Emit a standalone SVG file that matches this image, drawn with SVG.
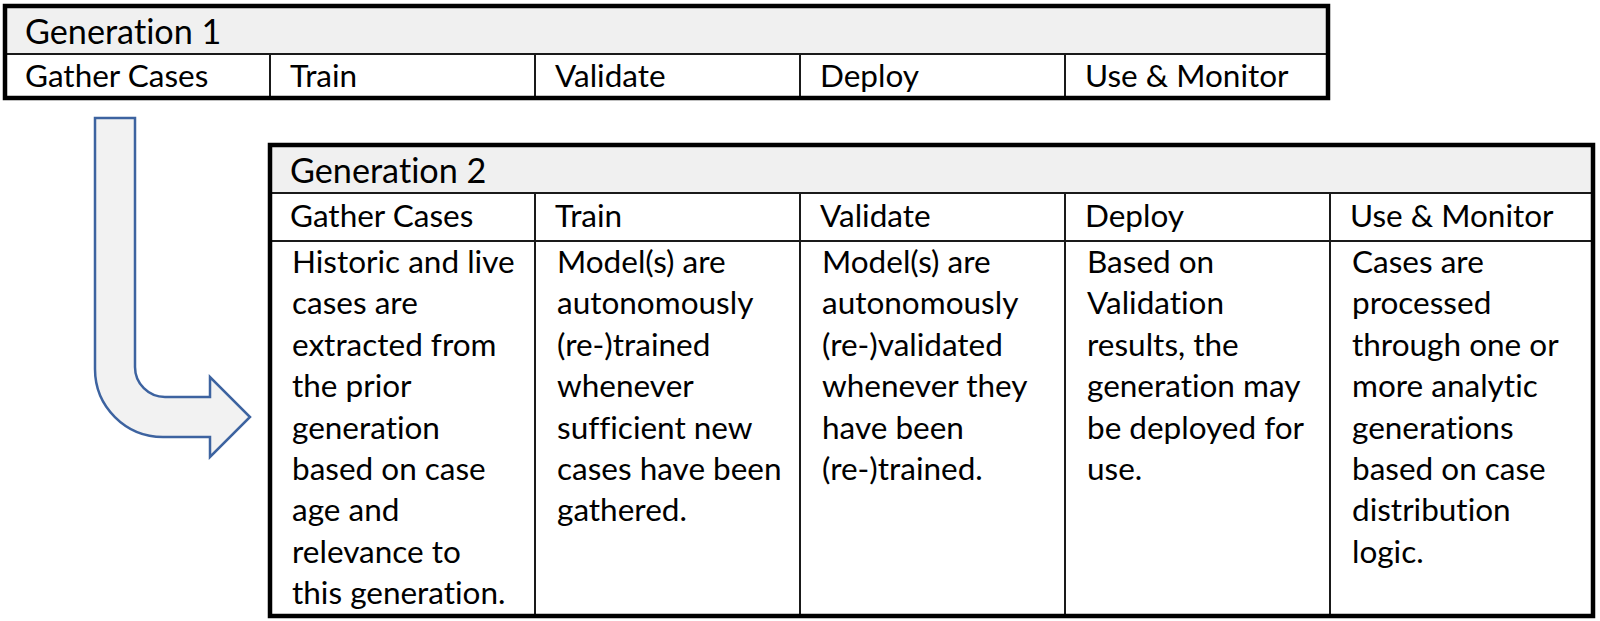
<svg xmlns="http://www.w3.org/2000/svg" width="1600" height="621" viewBox="0 0 1600 621">
<style>
  text { font-family: Lato, "Liberation Sans", sans-serif; font-size: 31.5px; fill: #000; font-variant-ligatures: none; font-feature-settings: "liga" 0, "dlig" 0; }
  text.title { font-size: 34.2px; }
  .hdr { fill: #f0f0f0; stroke: none; }
  .outer { fill: none; stroke: #000; stroke-width: 4.5; }
  .grid { stroke: #1a1a1a; stroke-width: 2; fill: none; }
  .arrow { fill: #f2f2f2; stroke: #3d63a0; stroke-width: 2.5; stroke-linejoin: miter; }
</style>
<rect x="0" y="0" width="1600" height="621" fill="#fff"/>

<g id="generation-1">
  <rect x="5" y="6" width="1323" height="48" class="hdr"/>
  <rect x="5" y="54" width="1323" height="44" fill="#fff"/>
  <line x1="5" y1="54" x2="1328" y2="54" class="grid"/>
  <line x1="270" y1="54" x2="270" y2="98" class="grid"/>
  <line x1="535" y1="54" x2="535" y2="98" class="grid"/>
  <line x1="800" y1="54" x2="800" y2="98" class="grid"/>
  <line x1="1065" y1="54" x2="1065" y2="98" class="grid"/>
  <rect x="5" y="6" width="1323" height="92" class="outer"/>
  <text class="title" x="25" y="44">Generation 1</text>
  <text x="25" y="87">Gather Cases</text>
  <text x="290" y="87">Train</text>
  <text x="555" y="87">Validate</text>
  <text x="820" y="87">Deploy</text>
  <text x="1085" y="87">Use &amp; Monitor</text>
</g>

<g id="connectors">
  <path class="arrow" d="M95,118 H135 V367 A30,30 0 0 0 165,397 H210 V377 L250,417 L210,457 V437 H163 A68,68 0 0 1 95,369 Z"/>
</g>

<g id="generation-2">
  <rect x="270" y="145" width="1323" height="48" class="hdr"/>
  <line x1="270" y1="193" x2="1593" y2="193" class="grid"/>
  <line x1="270" y1="241" x2="1593" y2="241" class="grid"/>
  <line x1="535" y1="193" x2="535" y2="616" class="grid"/>
  <line x1="800" y1="193" x2="800" y2="616" class="grid"/>
  <line x1="1065" y1="193" x2="1065" y2="616" class="grid"/>
  <line x1="1330" y1="193" x2="1330" y2="616" class="grid"/>
  <rect x="270" y="145" width="1323" height="471" class="outer"/>
  <text class="title" x="290" y="183">Generation 2</text>
  <text x="290" y="227">Gather Cases</text>
  <text x="555" y="227">Train</text>
  <text x="820" y="227">Validate</text>
  <text x="1085" y="227">Deploy</text>
  <text x="1350" y="227">Use &amp; Monitor</text>

  <g id="gather-cases-body">
    <text x="292" y="273">Historic and live</text>
    <text x="292" y="314.4">cases are</text>
    <text x="292" y="355.8">extracted from</text>
    <text x="292" y="397.2">the prior</text>
    <text x="292" y="438.6">generation</text>
    <text x="292" y="480">based on case</text>
    <text x="292" y="521.4">age and</text>
    <text x="292" y="562.8">relevance to</text>
    <text x="292" y="604.2">this generation.</text>
  </g>
  <g id="train-body">
    <text x="557" y="273">Model(s) are</text>
    <text x="557" y="314.4">autonomously</text>
    <text x="557" y="355.8">(re-)trained</text>
    <text x="557" y="397.2">whenever</text>
    <text x="557" y="438.6">sufficient new</text>
    <text x="557" y="480">cases have been</text>
    <text x="557" y="521.4">gathered.</text>
  </g>
  <g id="validate-body">
    <text x="822" y="273">Model(s) are</text>
    <text x="822" y="314.4">autonomously</text>
    <text x="822" y="355.8">(re-)validated</text>
    <text x="822" y="397.2">whenever they</text>
    <text x="822" y="438.6">have been</text>
    <text x="822" y="480">(re-)trained.</text>
  </g>
  <g id="deploy-body">
    <text x="1087" y="273">Based on</text>
    <text x="1087" y="314.4">Validation</text>
    <text x="1087" y="355.8">results, the</text>
    <text x="1087" y="397.2">generation may</text>
    <text x="1087" y="438.6">be deployed for</text>
    <text x="1087" y="480">use.</text>
  </g>
  <g id="use-monitor-body">
    <text x="1352" y="273">Cases are</text>
    <text x="1352" y="314.4">processed</text>
    <text x="1352" y="355.8">through one or</text>
    <text x="1352" y="397.2">more analytic</text>
    <text x="1352" y="438.6">generations</text>
    <text x="1352" y="480">based on case</text>
    <text x="1352" y="521.4">distribution</text>
    <text x="1352" y="562.8">logic.</text>
  </g>
</g>
</svg>
